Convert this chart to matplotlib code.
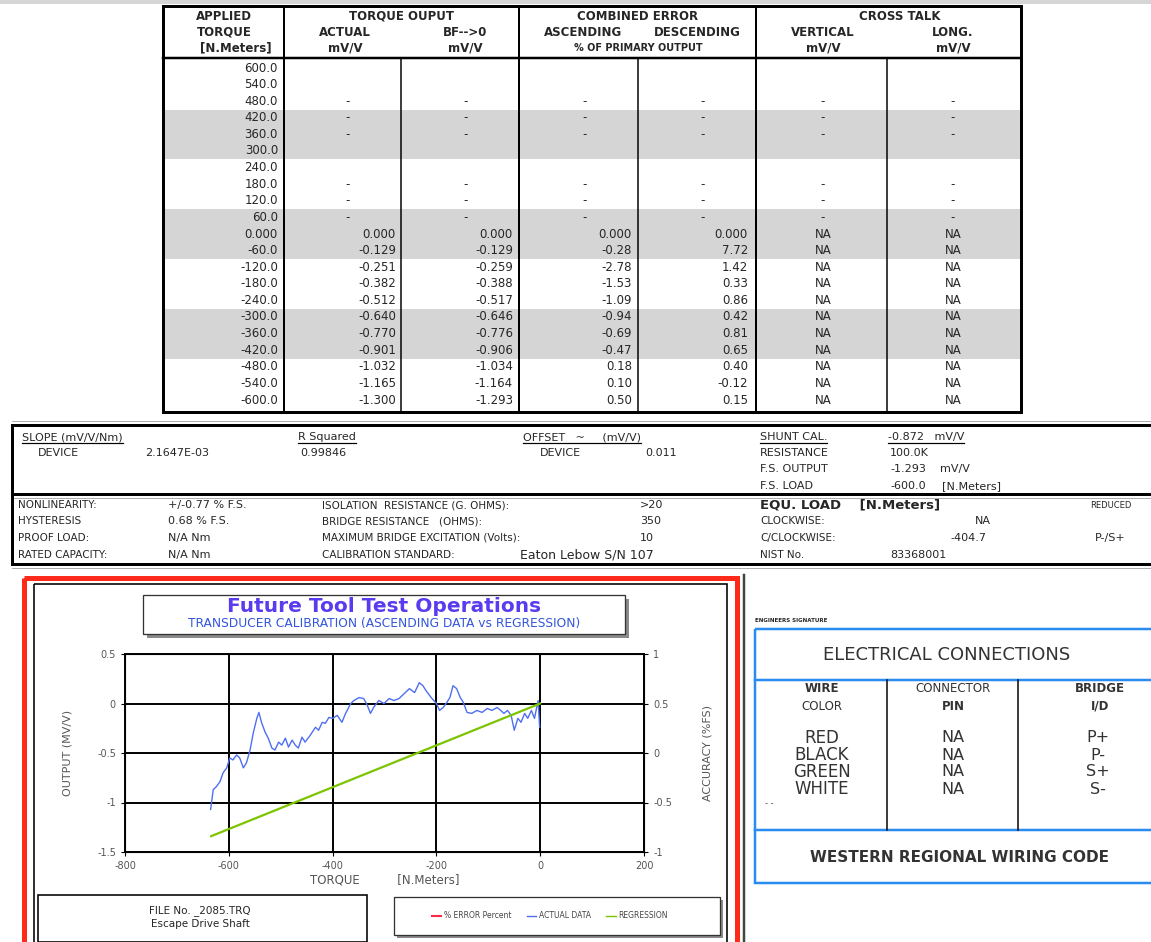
#!/usr/bin/env python3
"""Torque transducer calibration sheet: data table, summary block and the
ascending-data vs regression chart."""

import matplotlib
matplotlib.use("Agg")
import matplotlib.pyplot as plt
from matplotlib.lines import Line2D
from matplotlib.patches import Rectangle

plt.rcParams["font.family"] = ["DejaVu Sans"]
plt.rcParams["axes.unicode_minus"] = False

W, H = 1151, 942
INK = "#262626"

# ---- calibration table -------------------------------------------------
torque_rows = ["600.0", "540.0", "480.0", "420.0", "360.0", "300.0", "240.0",
               "180.0", "120.0", "60.0", "0.000", "-60.0", "-120.0", "-180.0",
               "-240.0", "-300.0", "-360.0", "-420.0", "-480.0", "-540.0", "-600.0"]
actual_rows = ["", "", "-", "-", "-", "", "", "-", "-", "-", "0.000", "-0.129",
               "-0.251", "-0.382", "-0.512", "-0.640", "-0.770", "-0.901",
               "-1.032", "-1.165", "-1.300"]
bf_rows = ["", "", "-", "-", "-", "", "", "-", "-", "-", "0.000", "-0.129",
           "-0.259", "-0.388", "-0.517", "-0.646", "-0.776", "-0.906",
           "-1.034", "-1.164", "-1.293"]
asc_rows = ["", "", "-", "-", "-", "", "", "-", "-", "-", "0.000", "-0.28",
            "-2.78", "-1.53", "-1.09", "-0.94", "-0.69", "-0.47", "0.18",
            "0.10", "0.50"]
desc_rows = ["", "", "-", "-", "-", "", "", "-", "-", "-", "0.000", "7.72",
             "1.42", "0.33", "0.86", "0.42", "0.81", "0.65", "0.40", "-0.12",
             "0.15"]
vert_rows = ["", "", "-", "-", "-", "", "", "-", "-", "-", "NA", "NA", "NA",
             "NA", "NA", "NA", "NA", "NA", "NA", "NA", "NA"]
long_rows = ["", "", "-", "-", "-", "", "", "-", "-", "-", "NA", "NA", "NA",
             "NA", "NA", "NA", "NA", "NA", "NA", "NA", "NA"]

# ---- summary block -----------------------------------------------------
slope_device = "2.1647E-03"
r_squared = "0.99846"
offset_device = "0.011"
shunt_cal = "-0.872"
shunt_resistance = "100.0K"
fs_output = "-1.293"
fs_load = "-600.0"
nonlinearity = "+/-0.77 % F.S."
hysteresis = "0.68 % F.S."
proof_load = "N/A Nm"
rated_capacity = "N/A Nm"
isolation = ">20"
bridge_res = "350"
max_excitation = "10"
cal_standard = "Eaton Lebow S/N 107"
equ_clockwise = "NA"
equ_cclockwise = "-404.7"
equ_reduced = "P-/S+"
nist_no = "83368001"

# ---- chart data ---------------------------------------------------------
actual_x = [-635, -630, -624, -617, -611, -604, -598, -592, -585, -579, -572,
            -566, -559, -553, -546, -542, -537, -530, -524, -517, -511, -504,
            -498, -491, -485, -478, -472, -466, -459, -453, -443, -433, -427,
            -420, -414, -407, -400, -391, -382, -375, -365, -359, -349, -340,
            -333, -327, -321, -311, -301, -291, -282, -272, -262, -252, -242,
            -233, -226, -220, -210, -200, -194, -187, -180, -174, -168, -161,
            -154, -148, -141, -132, -122, -112, -102, -93, -83, -76, -70, -63,
            -56, -50, -43, -37, -30, -24, -17, -11, -4, -1]
actual_y = [-1.07, -0.87, -0.84, -0.79, -0.70, -0.65, -0.55, -0.57, -0.52,
            -0.55, -0.65, -0.60, -0.47, -0.30, -0.15, -0.09, -0.19, -0.29,
            -0.35, -0.45, -0.47, -0.39, -0.42, -0.35, -0.44, -0.37, -0.42,
            -0.45, -0.34, -0.39, -0.32, -0.24, -0.27, -0.19, -0.20, -0.14,
            -0.15, -0.12, -0.19, -0.10, 0.00, 0.03, 0.06, 0.05, -0.02, -0.10,
            -0.04, 0.03, 0.00, 0.05, 0.03, 0.05, 0.10, 0.15, 0.11, 0.21, 0.18,
            0.13, 0.06, 0.00, -0.07, -0.04, 0.01, 0.06, 0.18, 0.15, 0.06, 0.01,
            -0.09, -0.10, -0.07, -0.09, -0.05, -0.07, -0.04, -0.07, -0.10,
            -0.07, -0.12, -0.27, -0.15, -0.19, -0.10, -0.15, -0.07, -0.15,
            0.03, -0.24]
regression_x = [-634, 0]
regression_y = [-1.34, 0.0]
legend_labels = ["% ERROR Percent", "ACTUAL DATA", "REGRESSION"]
x_ticks = [-800, -600, -400, -200, 0, 200]
left_ticks = [-1.5, -1, -0.5, 0, 0.5]
right_ticks = [-1, -0.5, 0, 0.5, 1]

# ---- wiring --------------------------------------------------------------
wire_colors = ["RED", "BLACK", "GREEN", "WHITE"]
connector_pins = ["NA", "NA", "NA", "NA"]
bridge_ids = ["P+", "P-", "S+", "S-"]


fig = plt.figure(figsize=(W / 100, H / 100), dpi=100)
bg = fig.add_axes([0, 0, 1, 1])
bg.set_xlim(0, W)
bg.set_ylim(H, 0)
bg.axis("off")


def line(x0, y0, x1, y1, lw=1.0, color="black"):
    bg.plot([x0, x1], [y0, y1], color=color, lw=lw * 0.72,
            solid_capstyle="projecting")


def rect(x0, y0, x1, y1, lw=1.0, ec="black", fc="none", z=1):
    bg.add_patch(Rectangle((x0, y0), x1 - x0, y1 - y0, lw=lw * 0.72,
                           ec=ec, fc=fc, zorder=z))


def text(x, y, s, size=8, ha="left", weight="normal", color=INK, **kw):
    return bg.text(x, y, s, fontsize=size, ha=ha, va="center",
                   fontweight=weight, color=color, **kw)


def underline(t):
    r = fig.canvas.get_renderer()
    bb = t.get_window_extent(renderer=r).transformed(bg.transData.inverted())
    x0, x1 = sorted([bb.x0, bb.x1])
    y = max(bb.y0, bb.y1) + 1
    line(x0, y, x1, y, lw=1.2)


# scan strip at the very top
rect(0, 0, W, 4, lw=0, ec="none", fc="#d6d6d6", z=0)

# ---- top table -----------------------------------------------------------
row_y0, row_dy = 68, 16.6
for group in (3, 9, 15):
    rect(164, row_y0 + group * row_dy - 8.3, 1020,
         row_y0 + (group + 3) * row_dy - 8.3, lw=0, ec="none", fc="#d5d5d5", z=0)

rect(163, 6, 1021, 412, lw=3)
line(163, 58, 1021, 58, lw=2.5)
for x in (284, 519, 756):
    line(x, 6, x, 412, lw=2)
for x in (401, 638, 887):
    line(x, 58, x, 412, lw=1.5)

hdr = dict(size=8.5, weight="bold", ha="center")
text(224, 16, "APPLIED", **hdr)
text(224, 32, "TORQUE", **hdr)
text(236, 48, "[N.Meters]", **hdr)
text(402, 16, "TORQUE OUPUT", **hdr)
text(345, 32, "ACTUAL", **hdr)
text(345, 48, "mV/V", **hdr)
text(465, 32, "BF-->0", **hdr)
text(465, 48, "mV/V", **hdr)
text(638, 16, "COMBINED ERROR", **hdr)
text(583, 32, "ASCENDING", **hdr)
text(697, 32, "DESCENDING", **hdr)
text(638, 48, "% OF PRIMARY OUTPUT", size=7, weight="bold", ha="center")
text(900, 16, "CROSS TALK", **hdr)
text(823, 32, "VERTICAL", **hdr)
text(953, 32, "LONG.", **hdr)
text(823, 48, "mV/V", **hdr)
text(953, 48, "mV/V", **hdr)

cols = [(actual_rows, 396, 348), (bf_rows, 513, 466), (asc_rows, 632, 585),
        (desc_rows, 748, 703)]
for i, tq in enumerate(torque_rows):
    y = row_y0 + i * row_dy
    text(278, y, tq, size=8.5, ha="right")
    for values, right, mid in cols:
        v = values[i]
        if v == "-":
            text(mid, y, v, size=8.5, ha="center")
        elif v:
            text(right, y, v, size=8.5, ha="right")
    text(823, y, vert_rows[i], size=8.5, ha="center")
    text(953, y, long_rows[i], size=8.5, ha="center")

# ---- summary block -------------------------------------------------------
line(12, 421, W, 421, lw=0.8, color="#999999")
line(12, 425, W, 425, lw=3)
line(12, 494, W, 494, lw=3)
line(12, 498, W, 498, lw=0.8, color="#999999")
line(12, 564, W, 564, lw=3)
line(12, 568, W, 568, lw=0.8, color="#999999")
line(12, 425, 12, 564, lw=3)

s = 8
underline(text(22, 437, "SLOPE (mV/V/Nm)", size=s))
text(38, 453, "DEVICE", size=s)
text(145, 453, slope_device, size=s)
underline(text(298, 437, "R Squared", size=s))
text(300, 453, r_squared, size=s)
underline(text(523, 437, "OFFSET   ~     (mV/V)", size=s))
text(540, 453, "DEVICE", size=s)
text(645, 453, offset_device, size=s)
underline(text(760, 437, "SHUNT CAL.", size=s))
underline(text(888, 437, shunt_cal + "   mV/V", size=s))
text(760, 453, "RESISTANCE", size=s)
text(890, 453, shunt_resistance, size=s)
text(760, 469, "F.S. OUTPUT", size=s)
text(890, 469, fs_output, size=s)
text(940, 469, "mV/V", size=s)
text(760, 486, "F.S. LOAD", size=s)
text(890, 486, fs_load, size=s)
text(942, 486, "[N.Meters]", size=s)

rows_y = [505, 521, 538, 555]
for y, lab, val in zip(rows_y,
                       ["NONLINEARITY:", "HYSTERESIS", "PROOF LOAD:", "RATED CAPACITY:"],
                       [nonlinearity, hysteresis, proof_load, rated_capacity]):
    text(18, y, lab, size=7.5)
    text(168, y, val, size=8)
for y, lab, val in zip(rows_y[:3],
                       ["ISOLATION  RESISTANCE (G. OHMS):", "BRIDGE RESISTANCE   (OHMS):",
                        "MAXIMUM BRIDGE EXCITATION (Volts):"],
                       [isolation, bridge_res, max_excitation]):
    text(322, y, lab, size=7.5)
    text(640, y, val, size=8)
text(322, 555, "CALIBRATION STANDARD:", size=7.5)
text(520, 555, cal_standard, size=9)
text(760, 505, "EQU. LOAD    [N.Meters]", size=9.5, weight="bold")
text(1090, 505, "REDUCED", size=6)
text(760, 521, "CLOCKWISE:", size=7.5)
text(975, 521, equ_clockwise, size=8)
text(760, 538, "C/CLOCKWISE:", size=7.5)
text(950, 538, equ_cclockwise, size=8)
text(1095, 538, equ_reduced, size=8)
text(760, 555, "NIST No.", size=7.5)
text(890, 555, nist_no, size=8)

# ---- chart frame ---------------------------------------------------------
rect(24, 578, 737, 950, lw=5, ec="#ff2a1a")
rect(34, 584, 727, 950, lw=1.6, ec="black")
line(744, 575, 744, H, lw=2.5, color="#3c4a3c")

rect(147, 599, 629, 638, lw=0, ec="none", fc="#8a8a8a", z=2)
rect(143, 595, 625, 634, lw=1.3, ec="#333333", fc="white", z=3)
bg.text(384, 607, "Future Tool Test Operations", fontsize=14.5,
        fontweight="bold", color="#5a3cf0", ha="center", va="center", zorder=4)
bg.text(384, 624, "TRANSDUCER CALIBRATION (ASCENDING DATA vs REGRESSION)",
        fontsize=8.8, color="#3355dd", ha="center", va="center", zorder=4)

rect(38, 895, 367, 942, lw=1.6, ec="black", fc="white", z=2)
text(200, 911, "FILE No. _2085.TRQ", size=7.5, ha="center", zorder=3)
text(200, 924, "Escape Drive Shaft", size=7.5, ha="center", zorder=3)

rect(397, 900, 723, 938, lw=0, ec="none", fc="#8a8a8a", z=2)
rect(394, 897, 720, 935, lw=1.3, ec="#333333", fc="white", z=3)
handles = [Line2D([], [], color="#ff2a4a", lw=1.5),
           Line2D([], [], color="#4f6ff0", lw=1.0),
           Line2D([], [], color="#7cc400", lw=1.0)]
leg = bg.legend(handles, legend_labels, loc="center", ncol=3,
                bbox_to_anchor=(550, 916), bbox_transform=bg.transData,
                frameon=False, fontsize=5.5, handlelength=1.2,
                handletextpad=0.4, columnspacing=2.0)
leg.set_zorder(5)
for t in leg.get_texts():
    t.set_color("#444444")

# ---- chart ---------------------------------------------------------------
ax = fig.add_axes([125 / W, 1 - 852 / H, 519 / W, 198 / H])
ax.plot(actual_x, actual_y, color="#4f6ff0", lw=1.0, zorder=3)
ax.plot(regression_x, regression_y, color="#7cc400", lw=1.6, zorder=3)
ax.set_xlim(-800, 200)
ax.set_ylim(-1.5, 0.5)
ax.set_xticks(x_ticks)
ax.set_yticks(left_ticks)
ax.set_yticklabels([f"{v:g}" for v in left_ticks])
ax.grid(True, color="black", lw=1.4)
ax.set_axisbelow(True)
for sp in ax.spines.values():
    sp.set_linewidth(1.4)
ax.tick_params(labelsize=7, labelcolor="#555555", length=3, width=0.8)
ax.set_xlabel("TORQUE          [N.Meters]", fontsize=8.5, color="#555555",
              labelpad=2)
ax.set_ylabel("OUTPUT (MV/V)", fontsize=8, color="#555555", labelpad=18)

ax2 = ax.twinx()
ax2.set_ylim(-1, 1)
ax2.set_yticks(right_ticks)
ax2.set_yticklabels([f"{v:g}" for v in right_ticks])
ax2.tick_params(labelsize=7, labelcolor="#555555", length=3, width=0.8)
ax2.set_ylabel("ACCURACY (%FS)", fontsize=8, color="#555555", labelpad=22)

# ---- electrical connections ---------------------------------------------
text(755, 620, "ENGINEERS SIGNATURE", size=4, weight="bold")
blue = "#2a8cf0"
rect(755, 629, W + 10, 883, lw=2.5, ec=blue)
line(755, 680, W, 680, lw=2.5, color=blue)
line(755, 830, W, 830, lw=2.5, color=blue)
line(887, 680, 887, 830, lw=1.5)
line(1018, 680, 1018, 830, lw=1.5)
text(947, 655, "ELECTRICAL CONNECTIONS", size=13, ha="center", color="#333333")
text(822, 689, "WIRE", size=8.5, ha="center", weight="bold", color="#333333")
text(822, 706, "COLOR", size=8.5, ha="center", color="#333333")
text(953, 689, "CONNECTOR", size=8.5, ha="center", color="#333333")
text(953, 706, "PIN", size=8.5, ha="center", weight="bold", color="#333333")
text(1100, 689, "BRIDGE", size=8.5, ha="center", weight="bold", color="#333333")
text(1100, 706, "I/D", size=8.5, ha="center", weight="bold", color="#333333")
for i, (wc, pin, bid) in enumerate(zip(wire_colors, connector_pins, bridge_ids)):
    y = 738 + i * 17
    text(822, y, wc, size=12, ha="center", color="#333333")
    text(953, y, pin, size=11.5, ha="center", color="#333333")
    text(1098, y, bid, size=11.5, ha="center", color="#333333")
text(765, 803, "- -", size=6, color="#555555")
text(960, 858, "WESTERN REGIONAL WIRING CODE", size=11, ha="center",
     weight="bold", color="#333333")

fig.savefig("out.png", dpi=100)
